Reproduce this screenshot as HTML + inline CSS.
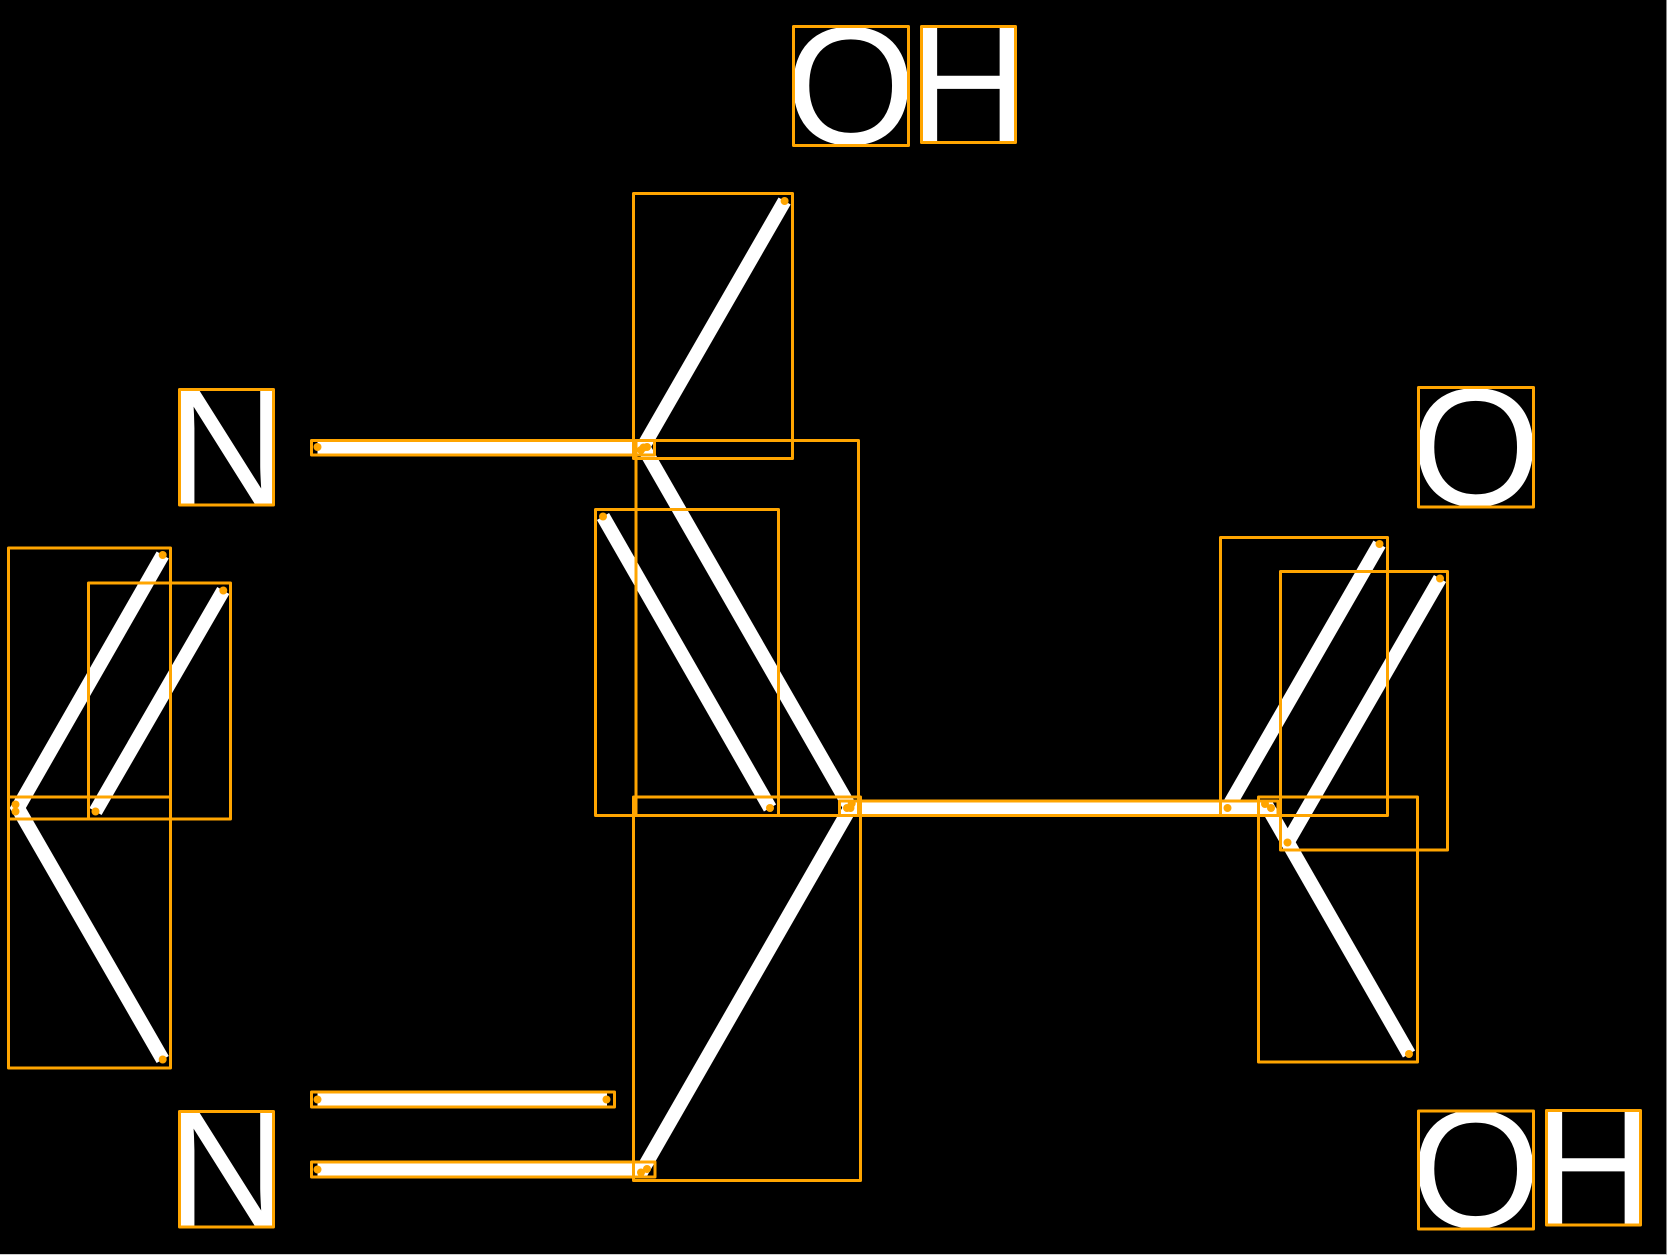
<!DOCTYPE html>
<html><head><meta charset="utf-8"><style>html,body{margin:0;padding:0;background:#000;width:1667px;height:1255px;overflow:hidden}svg{display:block}text{font-family:"Liberation Sans",sans-serif;font-size:168px;fill:#fff}</style></head><body>
<svg width="1667" height="1255" viewBox="0 0 1667 1255" xmlns="http://www.w3.org/2000/svg">
<rect width="1667" height="1255" fill="#000"/>
<rect x="1666" y="0" width="1" height="1255" fill="#888"/>
<rect x="0" y="1254" width="1667" height="1" fill="#ccc"/>
<text x="785.4" y="143.9">O</text>
<text x="907.7" y="142.5">H</text>
<text x="1410.4" y="505.4">O</text>
<text x="1410.4" y="1227.2">O</text>
<text x="1532.7" y="1225">H</text>
<text x="166.7" y="505">N</text>
<text x="166.7" y="1227">N</text>
<g stroke="#fff" stroke-width="14" fill="none">
<line x1="317.5" y1="447" x2="647.5" y2="447"/>
<line x1="641" y1="450.5" x2="784.6" y2="201"/>
<line x1="643.5" y1="447.5" x2="850.5" y2="808"/>
<line x1="603" y1="516.5" x2="770" y2="808"/>
<line x1="641" y1="1172.5" x2="852.5" y2="804"/>
<line x1="847" y1="808" x2="1271" y2="808"/>
<line x1="1379.5" y1="544" x2="1227.5" y2="808"/>
<line x1="1440" y1="578.5" x2="1287.5" y2="842.5"/>
<line x1="1266" y1="804.5" x2="1409" y2="1054"/>
<line x1="162.7" y1="555" x2="15.8" y2="811.5"/>
<line x1="223.3" y1="590.5" x2="95.5" y2="811.5"/>
<line x1="15.8" y1="804.5" x2="162.7" y2="1059.5"/>
<line x1="317.5" y1="1099.5" x2="607" y2="1099.5"/>
<line x1="317.5" y1="1169.5" x2="647.5" y2="1169.5"/>
</g>
<g stroke="#ffa500" stroke-width="3" fill="none" stroke-linejoin="round">
<rect x="793.5" y="26.5" width="115" height="119"/>
<rect x="921.5" y="26.5" width="94" height="116"/>
<rect x="1418.5" y="387.5" width="115" height="119.5"/>
<rect x="1418.5" y="1111" width="115" height="118"/>
<rect x="1546.5" y="1110.5" width="94" height="114.5"/>
<rect x="179.5" y="389.5" width="94" height="115.5"/>
<rect x="179.5" y="1111.5" width="94" height="115.5"/>
<rect x="311.5" y="440.5" width="343" height="14.5"/>
<rect x="633.5" y="193.5" width="159" height="265"/>
<rect x="636" y="440.5" width="222.5" height="375"/>
<rect x="595.5" y="509.5" width="183" height="306"/>
<rect x="633.5" y="797" width="227" height="383.5"/>
<rect x="839.5" y="801" width="438.5" height="14.5"/>
<rect x="1220.5" y="537.5" width="167" height="278"/>
<rect x="1280.5" y="571.5" width="167" height="278.5"/>
<rect x="1258.5" y="797" width="159" height="265"/>
<rect x="8.5" y="548" width="162" height="271"/>
<rect x="88.5" y="583" width="142" height="236"/>
<rect x="8.5" y="797" width="162" height="271"/>
<rect x="311.5" y="1092" width="303" height="15"/>
<rect x="311.5" y="1162" width="343.5" height="15"/>
</g>
<g fill="#ffa500">
<circle cx="317.5" cy="447" r="4"/><circle cx="647" cy="447" r="4"/>
<circle cx="641" cy="450" r="4"/><circle cx="784.6" cy="201" r="4"/>
<circle cx="643.5" cy="447.5" r="4"/><circle cx="850.5" cy="808" r="4"/>
<circle cx="603" cy="516.5" r="4"/><circle cx="770" cy="808" r="4"/>
<circle cx="641" cy="1172.5" r="4"/><circle cx="851.7" cy="803.5" r="4"/>
<circle cx="847" cy="808" r="4"/><circle cx="1271" cy="808" r="4"/>
<circle cx="1379.5" cy="544" r="4"/><circle cx="1227.5" cy="808" r="4"/>
<circle cx="1440" cy="578.5" r="4"/><circle cx="1287.5" cy="842.5" r="4"/>
<circle cx="1265" cy="804" r="4"/><circle cx="1409" cy="1054" r="4"/>
<circle cx="162.7" cy="555" r="4"/><circle cx="15.5" cy="811.5" r="4"/>
<circle cx="223.3" cy="590.5" r="4"/><circle cx="95.5" cy="811.5" r="4"/>
<circle cx="15.5" cy="804.5" r="4"/><circle cx="162.7" cy="1059.5" r="4"/>
<circle cx="317.5" cy="1099.5" r="4"/><circle cx="606.5" cy="1099.5" r="4"/>
<circle cx="317.5" cy="1169.5" r="4"/><circle cx="647" cy="1169" r="4"/>
</g>
</svg>
</body></html>
